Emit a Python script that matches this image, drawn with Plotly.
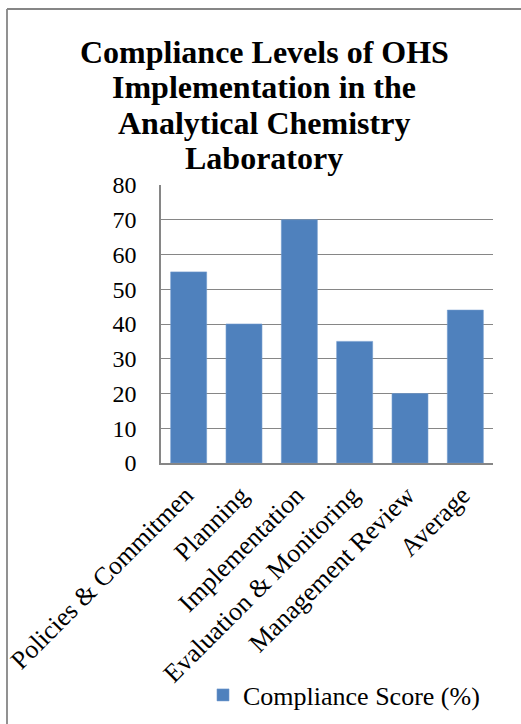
import plotly.graph_objects as go

categories = ["Policies & Commitmen", "Planning", "Implementation",
              "Evaluation & Monitoring", "Management Review", "Average"]
scores = [55, 40, 70, 35, 20, 44]
series_name = "Compliance Score (%)"
title_lines = ["Compliance Levels of OHS", "Implementation in the",
               "Analytical Chemistry", "Laboratory"]
y_ticks = [0, 10, 20, 30, 40, 50, 60, 70, 80]

W, H = 521, 724
L, R, T, B = 161, 28, 185, 261
FONT = "Liberation Serif, Times New Roman, serif"
PW, PH = W - L - R, H - T - B


def px_to_paper_x(px):
    return (px - L) / PW


def px_to_paper_y(py):
    return (H - B - py) / PH


fig = go.Figure()
fig.add_trace(go.Bar(
    x=categories, y=scores, name=series_name,
    marker=dict(color="#4F81BD", line=dict(color="#6f98cc", width=0.6)),
    showlegend=True,
))

title_centers = [52, 87, 123, 158]
annotations = [
    dict(text=line, xref="paper", yref="paper",
         x=px_to_paper_x(264), y=px_to_paper_y(cy),
         xanchor="center", yanchor="middle", showarrow=False,
         font=dict(family=FONT, size=32, color="black", weight="bold"))
    for line, cy in zip(title_lines, title_centers)
]

fig.update_layout(
    width=W, height=H,
    margin=dict(l=L, r=R, t=T, b=B, autoexpand=False),
    paper_bgcolor="white", plot_bgcolor="white",
    font=dict(family=FONT, color="black", size=26),
    bargap=0.35,
    annotations=annotations,
    xaxis=dict(
        tickangle=-45, showline=True, linecolor="#868686", linewidth=1.5,
        showgrid=False, ticks="", ticklabelstandoff=5, ticklabelshift=-3,
        tickfont=dict(family=FONT, size=26, color="black"),
    ),
    yaxis=dict(
        range=[0, 80], tickvals=y_ticks, showline=True, linecolor="#868686",
        linewidth=1.5, showgrid=True, gridcolor="#868686", gridwidth=1.3,
        ticks="", ticklabelstandoff=18, zeroline=False,
        tickfont=dict(family=FONT, size=24, color="black"),
    ),
    legend=dict(orientation="h", x=203 / W, xanchor="left", xref="container",
                y=1 - 695 / H, yanchor="middle", yref="container",
                font=dict(family=FONT, size=26, color="black"),
                itemwidth=30, tracegroupgap=0),
    shapes=[
        dict(type="line", xref="paper", yref="paper",
             x0=px_to_paper_x(7), x1=px_to_paper_x(W + 2),
             y0=px_to_paper_y(9), y1=px_to_paper_y(9),
             line=dict(color="#868686", width=1.8)),
        dict(type="line", xref="paper", yref="paper",
             x0=px_to_paper_x(7), x1=px_to_paper_x(7),
             y0=px_to_paper_y(9), y1=px_to_paper_y(H + 2),
             line=dict(color="#868686", width=1.8)),
    ],
)

fig.write_html("out.html", config={"displayModeBar": False},
               post_script="document.body.style.margin='0';document.body.style.overflow='hidden';")
